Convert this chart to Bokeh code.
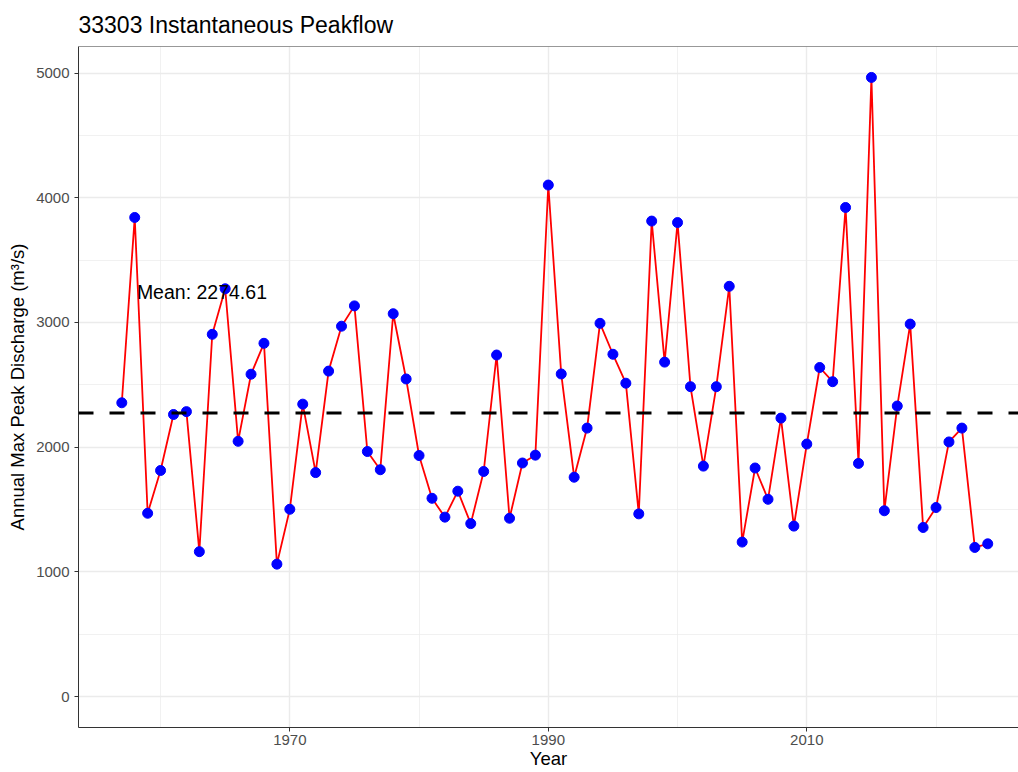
from bokeh.plotting import figure
from bokeh.models import Range1d, FixedTicker, Span, ColumnDataSource
from bokeh.core.properties import value
from bokeh.embed import file_html
from bokeh.resources import INLINE

years = [1957, 1958, 1959, 1960, 1961, 1962, 1963, 1964, 1965, 1966,
         1967, 1968, 1969, 1970, 1971, 1972, 1973, 1974, 1975, 1976,
         1977, 1978, 1979, 1980, 1981, 1982, 1983, 1984, 1985, 1986,
         1987, 1988, 1989, 1990, 1991, 1992, 1993, 1994, 1995, 1996,
         1997, 1998, 1999, 2000, 2001, 2002, 2003, 2004, 2005, 2006,
         2007, 2008, 2009, 2010, 2011, 2012, 2013, 2014, 2015, 2016,
         2017, 2018, 2019, 2020, 2021, 2022, 2023, 2024]
peaks = [2356, 3842, 1470, 1813, 2262, 2285, 1162, 2905, 3270, 2047,
         2585, 2833, 1062, 1502, 2345, 1796, 2610, 2970, 3133, 1965,
         1819, 3070, 2547, 1933, 1590, 1439, 1647, 1387, 1805, 2739,
         1430, 1873, 1936, 4102, 2587, 1759, 2153, 2993, 2745, 2513,
         1465, 3813, 2682, 3801, 2485, 1848, 2485, 3290, 1239, 1833,
         1582, 2233, 1367, 2025, 2639, 2525, 3922, 1870, 4965, 1490,
         2330, 2987, 1356, 1516, 2042, 2153, 1196, 1225]
mean_value = 2274.61
mean_label = "Mean: 2274.61"
mean_label_x = 1963.2
mean_label_y = 3244

x_major = [1970, 1990, 2010]
x_minor = [1960, 1980, 2000, 2020]
y_major = [0, 1000, 2000, 3000, 4000, 5000]
y_minor = [500, 1500, 2500, 3500, 4500]

FONT = "Liberation Sans"

p = figure(width=1018, height=772, output_backend="svg", toolbar_location=None,
           x_range=Range1d(1953.65, 2026.38), y_range=Range1d(-248, 5213),
           title="33303 Instantaneous Peakflow",
           x_axis_label="Year", y_axis_label="Annual Max Peak Discharge (m³/s)")
p.min_border_left = 78
p.min_border_right = 0
p.min_border_top = 46
p.min_border_bottom = 45
p.outline_line_color = None
p.background_fill_color = "white"
p.border_fill_color = "white"

p.title.text_font = FONT
p.title.text_font_size = "23px"
p.title.text_font_style = "normal"
p.title.text_color = "black"
p.title.align = "left"
p.title.standoff = 18

p.xaxis.ticker = FixedTicker(ticks=x_major, minor_ticks=x_minor)
p.yaxis.ticker = FixedTicker(ticks=y_major, minor_ticks=y_minor)

for ax in (p.xaxis, p.yaxis):
    ax.axis_line_color = "#333333"
    ax.axis_line_width = 1
    ax.major_tick_line_color = "#333333"
    ax.major_tick_out = 4
    ax.major_tick_in = 0
    ax.minor_tick_line_color = None
    ax.major_label_text_font = FONT
    ax.major_label_text_font_size = "15px"
    ax.major_label_text_color = "#4D4D4D"
    ax.axis_label_text_font = FONT
    ax.axis_label_text_font_size = "18.5px"
    ax.axis_label_text_font_style = "normal"
    ax.axis_label_text_color = "black"

p.xaxis.major_label_standoff = 3
p.xaxis.axis_label_standoff = 0
p.yaxis.major_label_standoff = 5
p.yaxis.axis_label_standoff = 5

for g in (p.xgrid, p.ygrid):
    g.grid_line_color = "#EBEBEB"
    g.grid_line_width = 1.4
    g.minor_grid_line_color = "#EBEBEB"
    g.minor_grid_line_width = 0.7

p.add_layout(Span(location=5213, dimension="width", line_color="#333333", line_width=1))

src = ColumnDataSource(dict(year=years, peak=peaks))
p.line("year", "peak", source=src, line_color="red", line_width=1.8)
p.scatter("year", "peak", source=src, size=10, fill_color="blue", line_color="blue")

p.add_layout(Span(location=mean_value, dimension="width", line_color="black",
                  line_width=3, line_dash="15 16"))

p.text(x=[mean_label_x], y=[mean_label_y], text=[mean_label], text_font=value(FONT),
       text_font_size="19.5px", text_color="black", text_align="center",
       text_baseline="middle")

open("out.html", "w").write(file_html(p, INLINE))
